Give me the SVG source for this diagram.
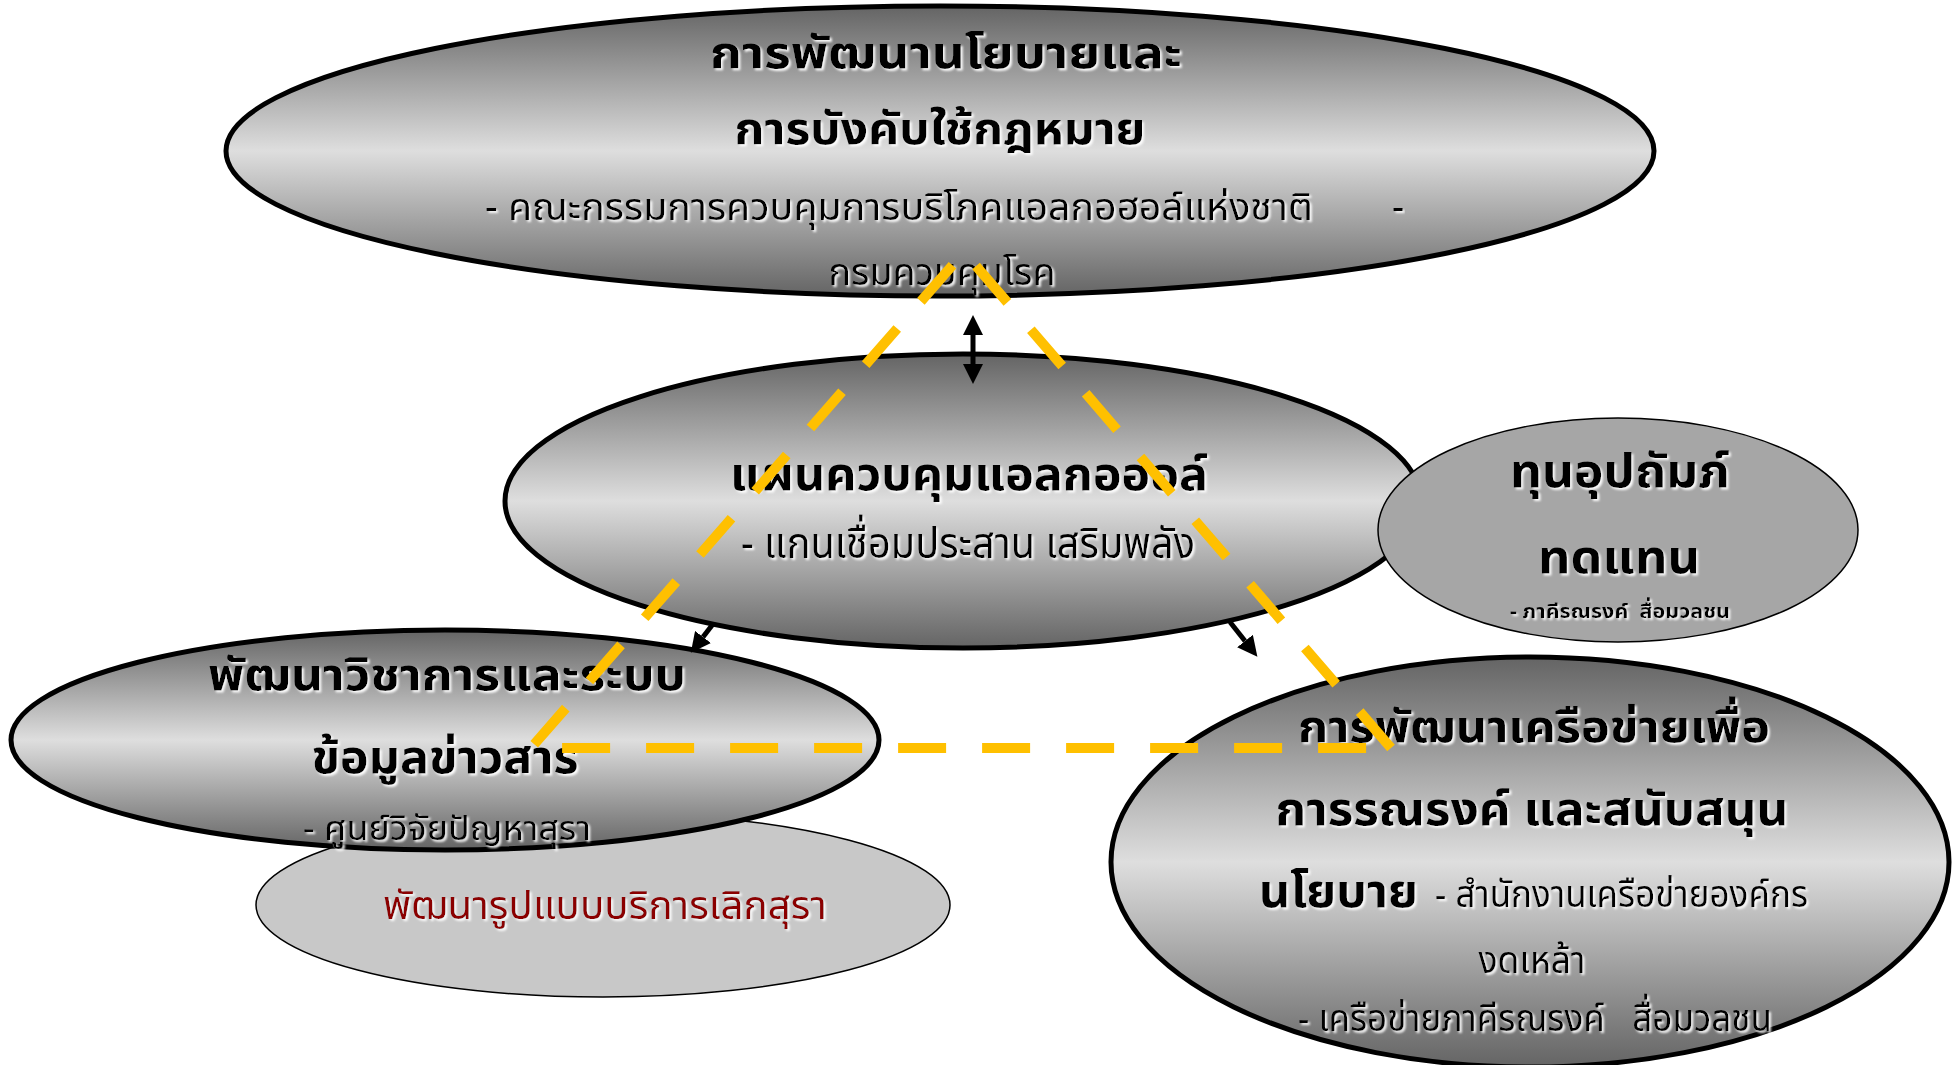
<svg xmlns="http://www.w3.org/2000/svg" width="1956" height="1065" viewBox="0 0 1956 1065">
<defs>
<linearGradient id="gr" x1="0" y1="0" x2="0" y2="1">
<stop offset="0" stop-color="#646464"/>
<stop offset="0.5" stop-color="#dedede"/>
<stop offset="1" stop-color="#646464"/>
</linearGradient>
<filter id="glow" x="-5%" y="-30%" width="110%" height="160%">
<feDropShadow dx="2" dy="2" stdDeviation="1.2" flood-color="#ffffff" flood-opacity="0.95"/>
</filter>
<marker id="ah" viewBox="0 0 20 20" refX="0" refY="10" markerWidth="20" markerHeight="20" markerUnits="userSpaceOnUse" orient="auto-start-reverse">
<path d="M0,0 L20,10 L0,20 Z" fill="#000"/>
</marker>
<style>
.big{fill:url(#gr);stroke:#000;stroke-width:5}
.t{font-family:"Noto Sans Thai","Noto Sans","DejaVu Sans",sans-serif;fill:#000;text-anchor:middle;filter:url(#glow)}
.b{font-weight:bold}
.s{text-anchor:start}
.pre{white-space:pre}
.arr{stroke:#000;stroke-width:5;fill:none;marker-end:url(#ah)}
.tri{fill:none;stroke:#FFC000;stroke-width:10;stroke-dasharray:48 36}
</style>
</defs>
<rect width="1956" height="1065" fill="#fff"/>

<g id="node-policy">
<ellipse class="big" cx="940" cy="151" rx="714" ry="145"/>
<text class="t b" x="946" y="68" font-size="44" textLength="472" lengthAdjust="spacingAndGlyphs">การพัฒนานโยบายและ</text>
<text class="t b" x="940" y="144" font-size="44" textLength="411" lengthAdjust="spacingAndGlyphs">การบังคับใช้กฎหมาย</text>
<text class="t s" x="485" y="220" font-size="38" textLength="828" lengthAdjust="spacingAndGlyphs">- คณะกรรมการควบคุมการบริโภคแอลกอฮอล์แห่งชาติ</text>
<text class="t s" x="1392" y="220" font-size="38">-</text>
<text class="t" x="942" y="285" font-size="38" textLength="227" lengthAdjust="spacingAndGlyphs">กรมควบคุมโรค</text>
</g>

<g id="node-plan">
<ellipse class="big" cx="963" cy="501" rx="458" ry="147"/>
<text class="t b" x="969" y="490" font-size="47" textLength="478" lengthAdjust="spacingAndGlyphs">แผนควบคุมแอลกอฮอล์</text>
<text class="t" x="968" y="558" font-size="43" textLength="454" lengthAdjust="spacingAndGlyphs">- แกนเชื่อมประสาน เสริมพลัง</text>
</g>

<g id="node-fund">
<ellipse cx="1618" cy="530" rx="240" ry="112" fill="#a6a6a6" stroke="#000" stroke-width="1.5"/>
<text class="t b" x="1620" y="487" font-size="46" textLength="220" lengthAdjust="spacingAndGlyphs">ทุนอุปถัมภ์</text>
<text class="t b" x="1619" y="573" font-size="46" textLength="162" lengthAdjust="spacingAndGlyphs">ทดแทน</text>
<text class="t b pre" x="1620" y="618" font-size="20" textLength="220" lengthAdjust="spacingAndGlyphs">- ภาคีรณรงค์  สื่อมวลชน</text>
</g>

<g id="node-network">
<ellipse class="big" cx="1530" cy="862" rx="419" ry="205"/>
<text class="t b" x="1534" y="742" font-size="44" textLength="472" lengthAdjust="spacingAndGlyphs">การพัฒนาเครือข่ายเพื่อ</text>
<text class="t b" x="1532" y="825" font-size="46" textLength="513" lengthAdjust="spacingAndGlyphs">การรณรงค์ และสนับสนุน</text>
<text class="t b s" x="1259" y="907" font-size="46" textLength="159" lengthAdjust="spacingAndGlyphs">นโยบาย</text>
<text class="t s" x="1435" y="907" font-size="37" textLength="373" lengthAdjust="spacingAndGlyphs">- สำนักงานเครือข่ายองค์กร</text>
<text class="t" x="1532" y="973" font-size="37" textLength="107" lengthAdjust="spacingAndGlyphs">งดเหล้า</text>
<text class="t pre" x="1535" y="1031" font-size="37" textLength="474" lengthAdjust="spacingAndGlyphs">- เครือข่ายภาคีรณรงค์   สื่อมวลชน</text>
</g>

<g id="node-service">
<ellipse cx="603" cy="905" rx="347" ry="92" fill="#c8c8c8" stroke="#000" stroke-width="1.5"/>
<text class="t" x="605" y="919" font-size="40" style="fill:#8b0000" textLength="444" lengthAdjust="spacingAndGlyphs">พัฒนารูปแบบบริการเลิกสุรา</text>
</g>

<g id="node-research">
<ellipse class="big" cx="445" cy="740" rx="434" ry="110"/>
<text class="t b" x="447" y="690" font-size="44" textLength="478" lengthAdjust="spacingAndGlyphs">พัฒนาวิชาการและระบบ</text>
<text class="t b" x="445" y="773" font-size="46" textLength="267" lengthAdjust="spacingAndGlyphs">ข้อมูลข่าวสาร</text>
<text class="t" x="447" y="840" font-size="33" textLength="288" lengthAdjust="spacingAndGlyphs">- ศูนย์วิจัยปัญหาสุรา</text>
</g>

<g id="connectors">
<path class="arr" d="M973,335 L973,364" marker-start="url(#ah)"/>
<path class="arr" d="M713,624 L703,637"/>
<path class="arr" d="M1230,622 L1245,641"/>
</g>

<g id="triangle">
<path class="tri" d="M1391,748 L964,252 L531,748 Z"/>
</g>
</svg>
